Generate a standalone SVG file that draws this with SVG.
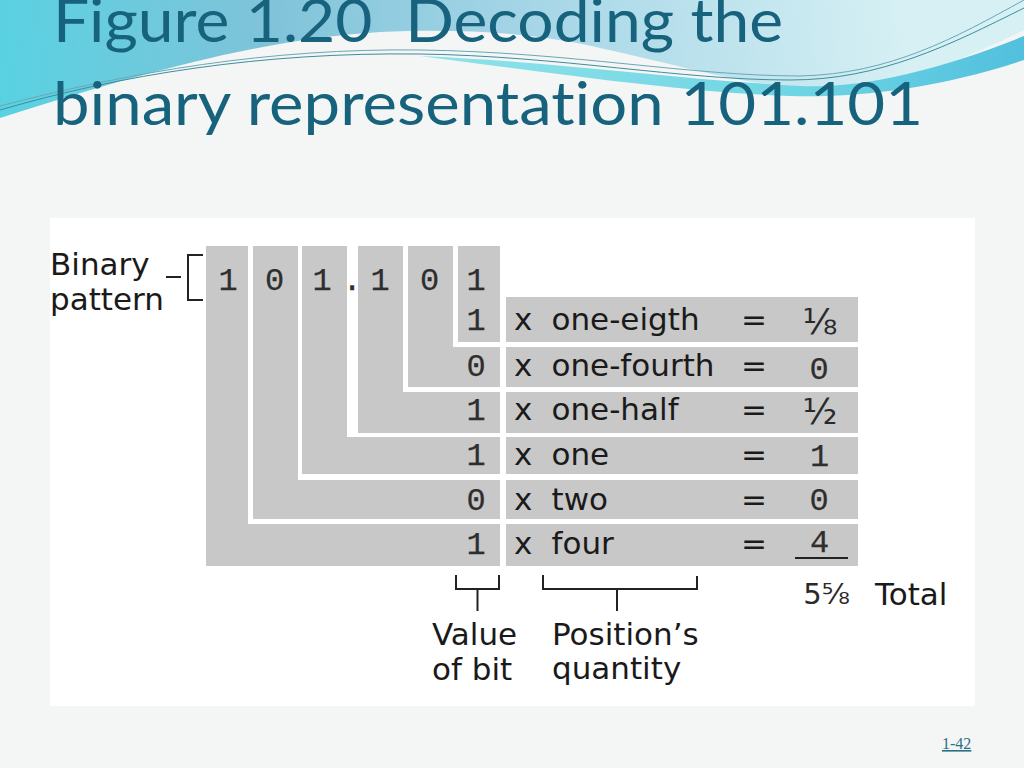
<svg xmlns="http://www.w3.org/2000/svg" width="1024" height="768" viewBox="0 0 1024 768">
  <defs>
    <linearGradient id="gTop" gradientUnits="userSpaceOnUse" x1="0" y1="110" x2="900" y2="0">
      <stop offset="0" stop-color="#58d2e2"/>
      <stop offset="0.3" stop-color="#7fc3d9"/>
      <stop offset="0.6" stop-color="#a6d6e7"/>
      <stop offset="1" stop-color="#d6f0f4"/>
    </linearGradient>
    <linearGradient id="gBand" gradientUnits="userSpaceOnUse" x1="420" y1="0" x2="1024" y2="0">
      <stop offset="0" stop-color="#8fe2ea"/>
      <stop offset="0.6" stop-color="#70d6e4"/>
      <stop offset="1" stop-color="#52c0de"/>
    </linearGradient>
    <style>
      .title { font-family: Lato, "Open Sans", "Liberation Sans", sans-serif; font-size: 60px; fill: #17627c; white-space: pre; font-variant-ligatures: none; }
      .cell { fill: #c8c8c8; }
      .sans { font-family: "DejaVu Sans", "Liberation Sans", sans-serif; font-size: 31px; fill: #1a1a1a; }
      .mono { font-family: "Liberation Mono", "DejaVu Sans Mono", monospace; font-size: 32px; fill: #2e2e2e; stroke: #2e2e2e; stroke-width: 0.25; text-anchor: middle; }
      .frac { font-family: "DejaVu Sans", "Liberation Sans", sans-serif; font-size: 36px; fill: #2a2a2a; text-anchor: middle; }
      .frac.total { font-size: 29px; }
      .br { fill: none; stroke: #222; stroke-width: 2; }
      .wave { fill: none; stroke-width: 1; }
    </style>
  </defs>

  <!-- slide background -->
  <rect x="0" y="0" width="1024" height="768" fill="#f4f5f5"/>
  <g id="header-waves">
    <path d="M0,0 H1024 V30 C960,62 900,84 830,88 C760,90 700,70 600,48 C540,34 470,28 380,32 C250,40 120,80 0,118 Z" fill="url(#gTop)"/>
    <path d="M420,56 C560,62 680,80 800,86 C860,89 940,70 1024,36 V60 C940,88 860,98 790,96 C680,92 560,74 420,56 Z" fill="url(#gBand)"/>
    <path class="wave" d="M0,110 C120,75 260,52 420,54 C560,56 680,80 790,80 C880,80 950,45 1024,8" stroke="#3d8e9e"/>
    <path class="wave" d="M0,106 C130,72 270,48 420,50 C570,52 690,76 800,76 C890,74 955,38 1024,0" stroke="#6aa8b5" stroke-width="0.8"/>
  </g>

  <g id="title">
    <text class="title" x="53" y="42" textLength="730" lengthAdjust="spacingAndGlyphs">Figure 1.20  Decoding the</text>
    <text class="title" x="53" y="125" textLength="870" lengthAdjust="spacingAndGlyphs">binary representation 101.101</text>
  </g>

  <!-- figure image area -->
  <rect x="50" y="218" width="925" height="488" fill="#ffffff"/>

  <g id="bit-columns">
    <path class="cell" d="M206,246 H248 V524 H500 V566 H206 Z"/>
    <path class="cell" d="M253,246 H298 V480 H500 V519 H253 Z"/>
    <path class="cell" d="M302,246 H347 V437 H500 V474 H302 Z"/>
    <path class="cell" d="M358,246 H403 V392 H500 V433 H358 Z"/>
    <path class="cell" d="M408,246 H453 V347 H500 V387 H408 Z"/>
    <rect class="cell" x="458" y="246" width="42" height="96"/>
  </g>

  <g id="quantity-rows">
    <rect class="cell" x="506" y="297" width="352" height="45"/>
    <rect class="cell" x="506" y="347" width="352" height="40"/>
    <rect class="cell" x="506" y="392" width="352" height="41"/>
    <rect class="cell" x="506" y="437" width="352" height="37"/>
    <rect class="cell" x="506" y="480" width="352" height="39"/>
    <rect class="cell" x="506" y="524" width="352" height="42"/>
  </g>

  <g id="binary-pattern">
    <text class="sans" x="50" y="275">Binary</text>
    <text class="sans" x="50" y="310">pattern</text>
    <text class="mono" x="228" y="290">1</text>
    <text class="mono" x="274.5" y="290">0</text>
    <text class="mono" x="322" y="290">1</text>
    <text class="mono" x="352" y="290">.</text>
    <text class="mono" x="380" y="290">1</text>
    <text class="mono" x="429.5" y="290">0</text>
    <text class="mono" x="476" y="290">1</text>
  </g>

  <g id="bit-values">
    <text class="mono" x="476" y="330">1</text>
    <text class="mono" x="476" y="376">0</text>
    <text class="mono" x="476" y="420">1</text>
    <text class="mono" x="476" y="465">1</text>
    <text class="mono" x="476" y="510">0</text>
    <text class="mono" x="476" y="554">1</text>
  </g>

  <g id="row-labels">
    <text class="sans" x="514" y="330">x</text>
    <text class="sans" x="551.5" y="330">one-eigth</text>
    <text class="sans" x="514" y="376">x</text>
    <text class="sans" x="551.5" y="376">one-fourth</text>
    <text class="sans" x="514" y="420">x</text>
    <text class="sans" x="551.5" y="420">one-half</text>
    <text class="sans" x="514" y="465">x</text>
    <text class="sans" x="551.5" y="465">one</text>
    <text class="sans" x="514" y="510">x</text>
    <text class="sans" x="551.5" y="510">two</text>
    <text class="sans" x="514" y="554">x</text>
    <text class="sans" x="551.5" y="554">four</text>
  </g>

  <g id="equals">
    <text class="sans" x="754" y="330" text-anchor="middle">=</text>
    <text class="sans" x="754" y="376" text-anchor="middle">=</text>
    <text class="sans" x="754" y="420" text-anchor="middle">=</text>
    <text class="sans" x="754" y="465" text-anchor="middle">=</text>
    <text class="sans" x="754" y="510" text-anchor="middle">=</text>
    <text class="sans" x="754" y="554" text-anchor="middle">=</text>
  </g>

  <g id="results">
    <text class="frac" x="820" y="334">⅛</text>
    <text class="mono" x="819" y="379">0</text>
    <text class="frac" x="820" y="424">½</text>
    <text class="mono" x="819.5" y="466">1</text>
    <text class="mono" x="819" y="510">0</text>
    <text class="mono" x="819.5" y="552">4</text>
    <text class="frac total" x="826.5" y="604">5⅝</text>
    <text class="sans" x="875" y="605">Total</text>
  </g>

  <g id="connectors">
    <path class="br" d="M166,277 H181"/>
    <path class="br" d="M203,255 H188 V300 H203"/>
    <path class="br" d="M795,558 H848"/>
    <path class="br" d="M456,575 V589 H499 V575"/>
    <path class="br" d="M477.5,589 V611"/>
    <path class="br" d="M543,575 V589 H697 V576"/>
    <path class="br" d="M617,589 V611"/>
  </g>

  <g id="bottom-labels">
    <text class="sans" x="432" y="645">Value</text>
    <text class="sans" x="432" y="680">of bit</text>
    <text class="sans" x="552" y="645">Position’s</text>
    <text class="sans" x="552" y="679">quantity</text>
  </g>

  <g id="page-number">
    <text x="942" y="749" font-family="'Liberation Serif', serif" font-size="16" fill="#2c6f85" text-decoration="underline">1-42</text>
  </g>
</svg>
